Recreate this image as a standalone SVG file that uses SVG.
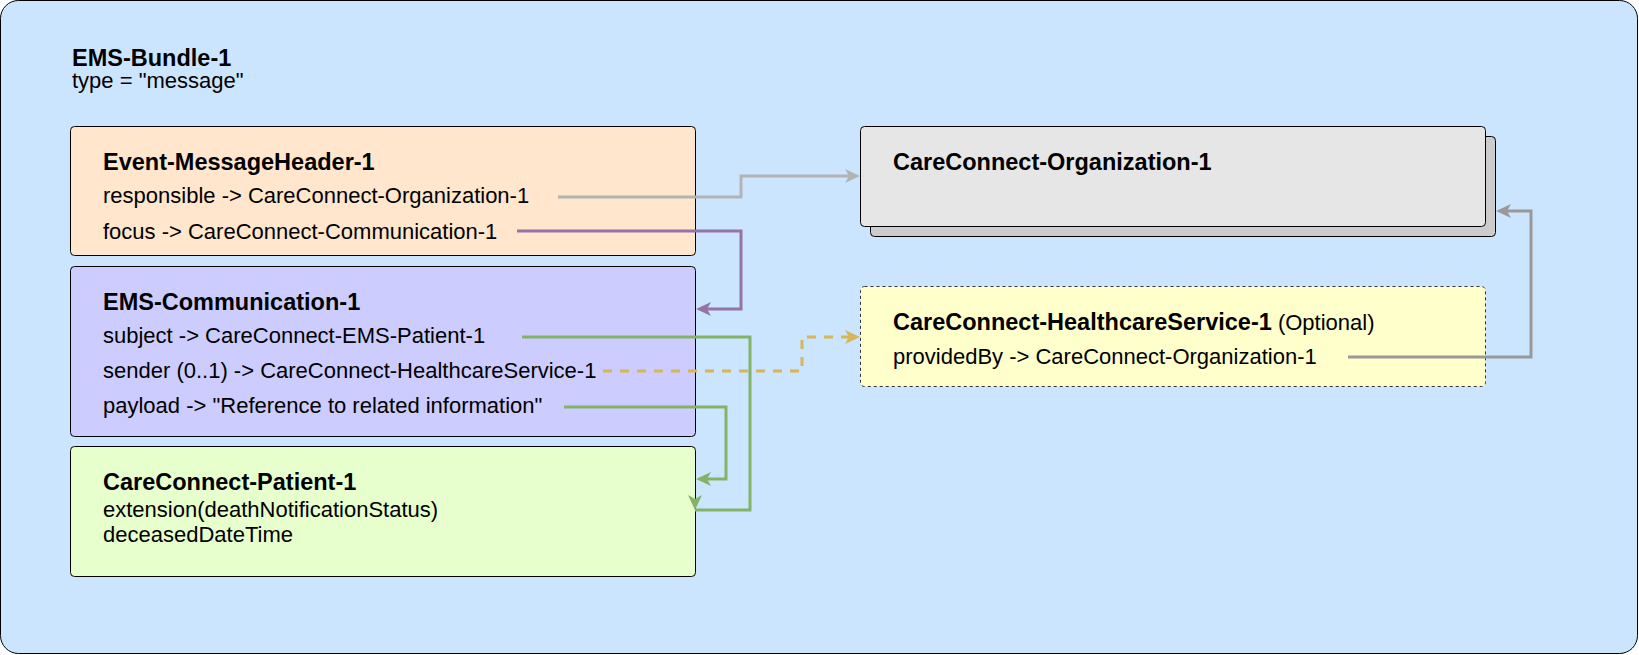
<svg xmlns="http://www.w3.org/2000/svg" width="1639" height="655" viewBox="0 0 1639 655">
  <style>
    text { font-family: "Liberation Sans", Arial, Helvetica, sans-serif; font-size: 22px; fill: #000; }
    .b { font-weight: bold; font-size: 23.5px; }
    .box { stroke: #000; stroke-width: 1; }
    .conn { fill: none; stroke-width: 3; }
  </style>
  <defs>
    <marker id="aGray1" markerUnits="userSpaceOnUse" markerWidth="16" markerHeight="14" refX="5" refY="7" orient="auto" overflow="visible">
      <path d="M0,0 L15,7 L0,14 L4,7 Z" fill="#b3b3b3"/>
    </marker>
    <marker id="aGray2" markerUnits="userSpaceOnUse" markerWidth="16" markerHeight="14" refX="5" refY="7" orient="auto" overflow="visible">
      <path d="M0,0 L15,7 L0,14 L4,7 Z" fill="#999999"/>
    </marker>
    <marker id="aPurple" markerUnits="userSpaceOnUse" markerWidth="16" markerHeight="14" refX="5" refY="7" orient="auto" overflow="visible">
      <path d="M0,0 L15,7 L0,14 L4,7 Z" fill="#9673a6"/>
    </marker>
    <marker id="aGreen" markerUnits="userSpaceOnUse" markerWidth="16" markerHeight="14" refX="5" refY="7" orient="auto" overflow="visible">
      <path d="M0,0 L15,7 L0,14 L4,7 Z" fill="#82b366"/>
    </marker>
    <marker id="aYellow" markerUnits="userSpaceOnUse" markerWidth="16" markerHeight="14" refX="5" refY="7" orient="auto" overflow="visible">
      <path d="M0,0 L15,7 L0,14 L4,7 Z" fill="#d6b656"/>
    </marker>
  </defs>

  <g id="bundle">
    <rect x="0.5" y="0.5" width="1637" height="653" rx="18" fill="#cce5ff" stroke="#000" stroke-width="1"/>
    <text x="72" y="66" class="b">EMS-Bundle-1</text>
    <text x="72" y="88">type = "message"</text>
  </g>

  <g id="messageheader">
    <rect class="box" x="70.5" y="126.5" width="625" height="129" rx="4" fill="#ffe6cc"/>
    <text x="103" y="170" class="b">Event-MessageHeader-1</text>
    <text x="103" y="203">responsible -&gt; CareConnect-Organization-1</text>
    <text x="103" y="239">focus -&gt; CareConnect-Communication-1</text>
  </g>

  <g id="communication">
    <rect class="box" x="70.5" y="266.5" width="625" height="170" rx="4" fill="#ccccff"/>
    <text x="103" y="310" class="b">EMS-Communication-1</text>
    <text x="103" y="343">subject -&gt; CareConnect-EMS-Patient-1</text>
    <text x="103" y="378">sender (0..1) -&gt; CareConnect-HealthcareService-1</text>
    <text x="103" y="413">payload -&gt; "Reference to related information"</text>
  </g>

  <g id="patient">
    <rect class="box" x="70.5" y="446.5" width="625" height="130" rx="4" fill="#e6ffcc"/>
    <text x="103" y="490" class="b">CareConnect-Patient-1</text>
    <text x="103" y="517">extension(deathNotificationStatus)</text>
    <text x="103" y="542">deceasedDateTime</text>
  </g>

  <g id="organization">
    <rect class="box" x="870.5" y="136.5" width="625" height="100" rx="4" fill="#cccccc"/>
    <rect class="box" x="860.5" y="126.5" width="625" height="100" rx="4" fill="#e6e6e6"/>
    <text x="893" y="170" class="b">CareConnect-Organization-1</text>
  </g>

  <g id="healthcareservice">
    <rect x="860.5" y="286.5" width="625" height="100" rx="4" fill="#ffffcc" stroke="#333" stroke-width="1" stroke-dasharray="3 3"/>
    <text x="893" y="330"><tspan class="b">CareConnect-HealthcareService-1</tspan> (Optional)</text>
    <text x="893" y="364">providedBy -&gt; CareConnect-Organization-1</text>
  </g>

  <g id="connectors">
    <path class="conn" stroke="#b3b3b3" d="M558,197 H741 V176 H850" marker-end="url(#aGray1)"/>
    <path class="conn" stroke="#9673a6" d="M517,231 H741 V309 H706" marker-end="url(#aPurple)"/>
    <path class="conn" stroke="#82b366" d="M564,407 H726 V479 H706" marker-end="url(#aGreen)"/>
    <path class="conn" stroke="#82b366" d="M522,337 H750 V510 H695 M695,499 V500" marker-end="url(#aGreen)"/>
    <path class="conn" stroke="#d6b656" stroke-dasharray="9 8" d="M603,371 H802 V337 H850" marker-end="url(#aYellow)"/>
    <path class="conn" stroke="#999999" d="M1348,357 H1531 V211 H1506" marker-end="url(#aGray2)"/>
  </g>
</svg>
